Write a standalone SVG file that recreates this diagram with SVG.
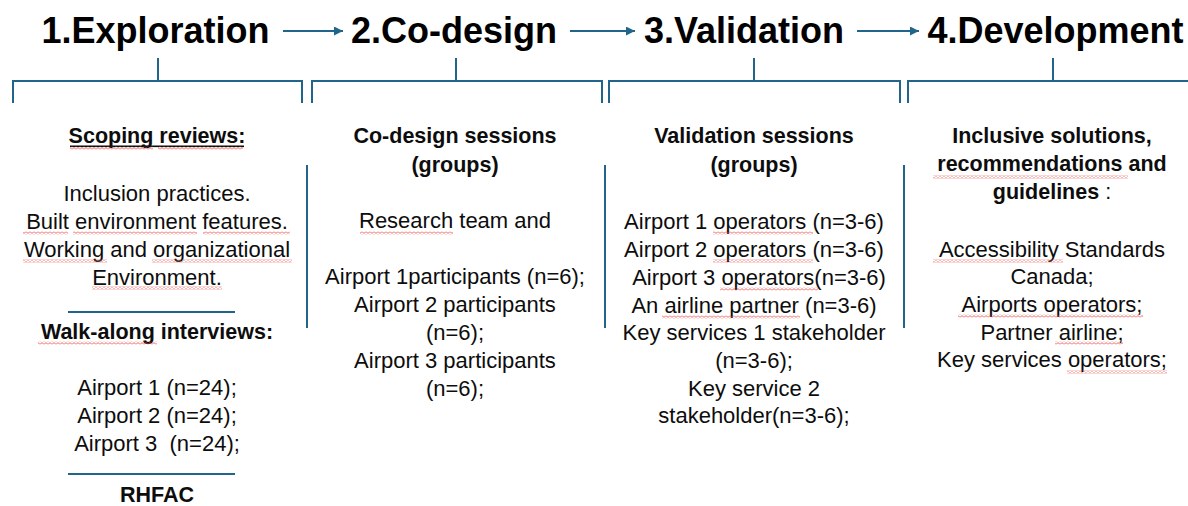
<svg xmlns="http://www.w3.org/2000/svg" width="1188" height="506" viewBox="0 0 1188 506">
  <style>
    .title { font-family: "Liberation Sans", Arial, sans-serif; font-weight: bold; font-size: 36px; fill: #000; text-anchor: middle; }
    .head { font-family: "Liberation Sans", Arial, sans-serif; font-weight: bold; font-size: 21.5px; fill: #0d0d0d; text-anchor: middle; }
    .body { font-family: "Liberation Sans", Arial, sans-serif; font-size: 22px; fill: #0d0d0d; text-anchor: middle; }
    .rule { stroke: #21658a; stroke-width: 2; fill: none; }
    .sq { fill: url(#wave); }
  </style>
  <defs>
    <marker id="head" viewBox="0 0 10 10" refX="10" refY="5" markerWidth="4.5" markerHeight="4.5" orient="auto" markerUnits="strokeWidth">
      <path d="M0 0 L10 5 L0 10 Z" fill="#21658a"/>
    </marker>
    <pattern id="wave" width="4" height="3" patternUnits="userSpaceOnUse">
      <path d="M0 2.4 L2 0.6 L4 2.4" fill="none" stroke="#e8453c" stroke-width="0.8"/>
    </pattern>
  </defs>

  <rect width="1188" height="506" fill="#fff"/>

  <!-- stage titles -->
  <g id="stage-1"><text class="title" x="155.5" y="43">1.Exploration</text></g>
  <g id="stage-2"><text class="title" x="454" y="43">2.Co-design</text></g>
  <g id="stage-3"><text class="title" x="744" y="43">3.Validation</text></g>
  <g id="stage-4"><text class="title" x="1055.5" y="43">4.Development</text></g>

  <!-- arrows, brackets and column dividers -->
  <g id="connectors">
    <line class="rule" x1="283" y1="31" x2="343" y2="31" marker-end="url(#head)"/>
    <line class="rule" x1="570" y1="31" x2="635" y2="31" marker-end="url(#head)"/>
    <line class="rule" x1="857" y1="31" x2="919" y2="31" marker-end="url(#head)"/>

    <path class="rule" d="M158 58 V81 M13 103 V81 H302 V103"/>
    <path class="rule" d="M456 58 V81 M312 103 V81 H602 V103"/>
    <path class="rule" d="M754 58 V81 M609 103 V81 H900 V103"/>
    <path class="rule" d="M1053 58 V81 M908 103 V81 H1190"/>

    <line class="rule" x1="307" y1="165" x2="307" y2="328"/>
    <line class="rule" x1="605" y1="165" x2="605" y2="328"/>
    <line class="rule" x1="904" y1="165" x2="904" y2="328"/>

    <line class="rule" x1="68" y1="312" x2="235" y2="312"/>
    <line class="rule" x1="68" y1="474" x2="235" y2="474"/>
  </g>

  <!-- column 1: exploration -->
  <g id="exploration">
    <text class="head" x="157" y="143">Scoping reviews:</text>
    <rect x="70" y="145.5" width="174" height="1.6" fill="#0d0d0d"/>
    <text class="body" x="157" y="201">Inclusion practices.</text>
    <text class="body" x="157" y="229">Built environment features.</text>
    <text class="body" x="157" y="257">Working and organizational</text>
    <text class="body" x="157" y="285">Environment.</text>
    <text class="head" x="157" y="339">Walk-along interviews:</text>
    <text class="body" x="157" y="395">Airport 1 (n=24);</text>
    <text class="body" x="157" y="423">Airport 2 (n=24);</text>
    <text class="body" x="157" y="451" xml:space="preserve">Airport 3  (n=24);</text>
    <text class="head" x="157" y="502">RHFAC</text>
  </g>

  <!-- column 2: co-design -->
  <g id="co-design">
    <text class="head" x="455" y="143">Co-design sessions</text>
    <text class="head" x="455" y="172">(groups)</text>
    <text class="body" x="455" y="228">Research team and</text>
    <text class="body" x="455" y="284">Airport 1participants (n=6);</text>
    <text class="body" x="455" y="312">Airport 2 participants</text>
    <text class="body" x="455" y="340">(n=6);</text>
    <text class="body" x="455" y="368">Airport 3 participants</text>
    <text class="body" x="455" y="396">(n=6);</text>
  </g>

  <!-- column 3: validation -->
  <g id="validation">
    <text class="head" x="754" y="143">Validation sessions</text>
    <text class="head" x="754" y="172">(groups)</text>
    <text class="body" x="754" y="229">Airport 1 operators (n=3-6)</text>
    <text class="body" x="754" y="257">Airport 2 operators (n=3-6)</text>
    <text class="body" x="759" y="285">Airport 3 operators(n=3-6)</text>
    <text class="body" x="754" y="313">An airline partner (n=3-6)</text>
    <text class="body" x="754" y="340">Key services 1 stakeholder</text>
    <text class="body" x="754" y="368">(n=3-6);</text>
    <text class="body" x="754" y="396">Key service 2</text>
    <text class="body" x="754" y="423">stakeholder(n=3-6);</text>
  </g>

  <!-- column 4: development -->
  <g id="development">
    <text class="head" x="1052" y="143">Inclusive solutions,</text>
    <text class="head" x="1052" y="171">recommendations and</text>
    <text class="head" x="1052" y="199">guidelines <tspan font-weight="normal">:</tspan></text>
    <text class="body" x="1052" y="257">Accessibility Standards</text>
    <text class="body" x="1052" y="284">Canada;</text>
    <text class="body" x="1052" y="312">Airports operators;</text>
    <text class="body" x="1052" y="340">Partner airline;</text>
    <text class="body" x="1052" y="367">Key services operators;</text>
  </g>

  <!-- spell-check marks under flagged words -->
  <g id="spelling-marks">
    <rect class="sq" x="70" y="146.5" width="83" height="3"/>
    <rect class="sq" x="158" y="146.5" width="85" height="3"/>
    <rect class="sq" x="23" y="231.5" width="45" height="3"/>
    <rect class="sq" x="73" y="231.5" width="124" height="3"/>
    <rect class="sq" x="203" y="231.5" width="87" height="3"/>
    <rect class="sq" x="23" y="259.5" width="84" height="3"/>
    <rect class="sq" x="152" y="259.5" width="140" height="3"/>
    <rect class="sq" x="92" y="286.5" width="130" height="3"/>
    <rect class="sq" x="38" y="341.5" width="119" height="3"/>
    <rect class="sq" x="360" y="231.5" width="93" height="3"/>
    <rect class="sq" x="713" y="231.5" width="100" height="3"/>
    <rect class="sq" x="713" y="259.5" width="100" height="3"/>
    <rect class="sq" x="720" y="287.5" width="98" height="3"/>
    <rect class="sq" x="662" y="315.5" width="138" height="3"/>
    <rect class="sq" x="933" y="175.5" width="195" height="3"/>
    <rect class="sq" x="933" y="259.5" width="130" height="3"/>
    <rect class="sq" x="958" y="314.5" width="185" height="3"/>
    <rect class="sq" x="1055" y="341.5" width="68" height="3"/>
    <rect class="sq" x="1067" y="370.5" width="100" height="3"/>
  </g>
</svg>
